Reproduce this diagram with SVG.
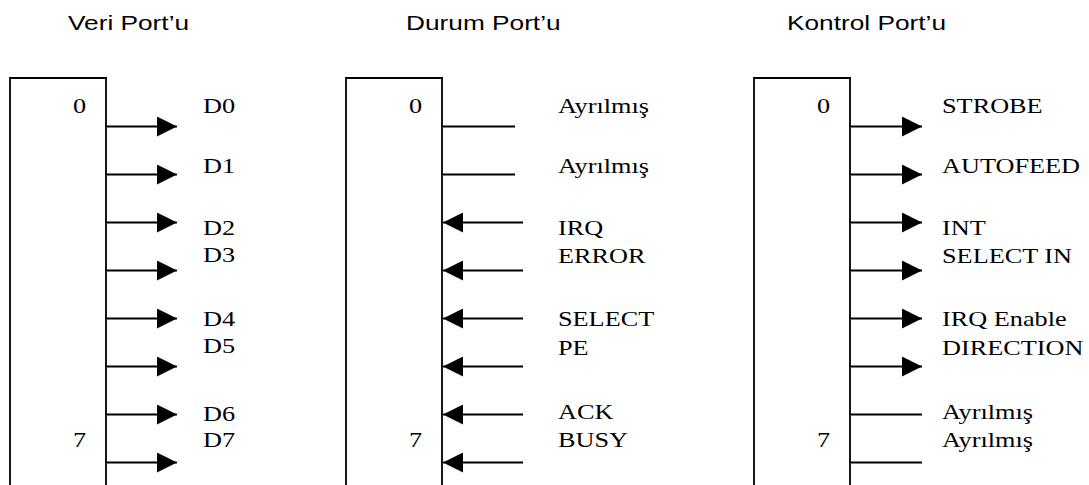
<svg xmlns="http://www.w3.org/2000/svg" width="1089" height="485" viewBox="0 0 1089 485">
<style>
.box{fill:none;stroke:#000;stroke-width:1.8}
.wire{stroke:#000;stroke-width:1.8;fill:none}
.arr{marker-end:url(#ah)}
.t{font-family:"Liberation Serif","Times New Roman",serif;font-size:21px;fill:#000}
.h{font-family:"Liberation Sans",Arial,sans-serif;font-size:21px;fill:#000}
</style>
<defs>
<marker id="ah" markerUnits="userSpaceOnUse" markerWidth="20" markerHeight="20" refX="20" refY="10" orient="auto">
<path d="M0,0 L20,10 L0,20 Z" fill="#000"/>
</marker>
</defs>
<rect width="1089" height="485" fill="#fff"/>
<g id="titles" transform="scale(1.25,1)">
<text class="h" x="54.4" y="30">Veri Port’u</text>
<text class="h" x="324.8" y="30">Durum Port’u</text>
<text class="h" x="629.6" y="30">Kontrol Port’u</text>
</g>
<g id="veri-port">
<path class="box" d="M10,486 V78 H106 V486"/>
<g transform="scale(1.25,1)">
<text class="t" x="58.4" y="113">0</text>
<text class="t" x="58.4" y="447">7</text>
<text class="t" x="162.4" y="113">D0</text>
<text class="t" x="162.4" y="173">D1</text>
<text class="t" x="162.4" y="235">D2</text>
<text class="t" x="162.4" y="262">D3</text>
<text class="t" x="162.4" y="326">D4</text>
<text class="t" x="162.4" y="353">D5</text>
<text class="t" x="162.4" y="421">D6</text>
<text class="t" x="162.4" y="447">D7</text>
</g>
</g>
<g id="durum-port">
<path class="box" d="M346,486 V78 H442 V486"/>
<g transform="scale(1.25,1)">
<text class="t" x="327.2" y="113">0</text>
<text class="t" x="327.2" y="447">7</text>
<text class="t" x="446.4" y="113">Ayrılmış</text>
<text class="t" x="446.4" y="173">Ayrılmış</text>
<text class="t" x="446.4" y="235">IRQ</text>
<text class="t" x="446.4" y="263">ERROR</text>
<text class="t" x="446.4" y="326">SELECT</text>
<text class="t" x="446.4" y="355">PE</text>
<text class="t" x="446.4" y="419">ACK</text>
<text class="t" x="446.4" y="447">BUSY</text>
</g>
</g>
<g id="kontrol-port">
<path class="box" d="M754,486 V78 H850 V486"/>
<g transform="scale(1.25,1)">
<text class="t" x="653.6" y="113">0</text>
<text class="t" x="653.6" y="447">7</text>
<text class="t" x="753.6" y="113">STROBE</text>
<text class="t" x="753.6" y="173">AUTOFEED</text>
<text class="t" x="753.6" y="235">INT</text>
<text class="t" x="753.6" y="263">SELECT IN</text>
<text class="t" x="753.6" y="326">IRQ Enable</text>
<text class="t" x="753.6" y="355">DIRECTION</text>
<text class="t" x="753.6" y="419">Ayrılmış</text>
<text class="t" x="753.6" y="447">Ayrılmış</text>
</g>
</g>
<g id="connectors">
<path class="wire arr" d="M106,126.5 H177"/>
<path class="wire arr" d="M106,174.5 H177"/>
<path class="wire arr" d="M106,222.5 H177"/>
<path class="wire arr" d="M106,270.5 H177"/>
<path class="wire arr" d="M106,318.5 H177"/>
<path class="wire arr" d="M106,366.5 H177"/>
<path class="wire arr" d="M106,414.5 H177"/>
<path class="wire arr" d="M106,462.5 H177"/>
<path class="wire" d="M442,126.5 H515"/>
<path class="wire" d="M442,174.5 H515"/>
<path class="wire arr" d="M523,222.5 H443"/>
<path class="wire arr" d="M523,270.5 H443"/>
<path class="wire arr" d="M523,318.5 H443"/>
<path class="wire arr" d="M523,366.5 H443"/>
<path class="wire arr" d="M523,414.5 H443"/>
<path class="wire arr" d="M523,462.5 H443"/>
<path class="wire arr" d="M850,126.5 H922"/>
<path class="wire arr" d="M850,174.5 H922"/>
<path class="wire arr" d="M850,222.5 H922"/>
<path class="wire arr" d="M850,270.5 H922"/>
<path class="wire arr" d="M850,318.5 H922"/>
<path class="wire arr" d="M850,366.5 H922"/>
<path class="wire" d="M850,414.5 H922"/>
<path class="wire" d="M850,462.5 H922"/>
</g>
</svg>
